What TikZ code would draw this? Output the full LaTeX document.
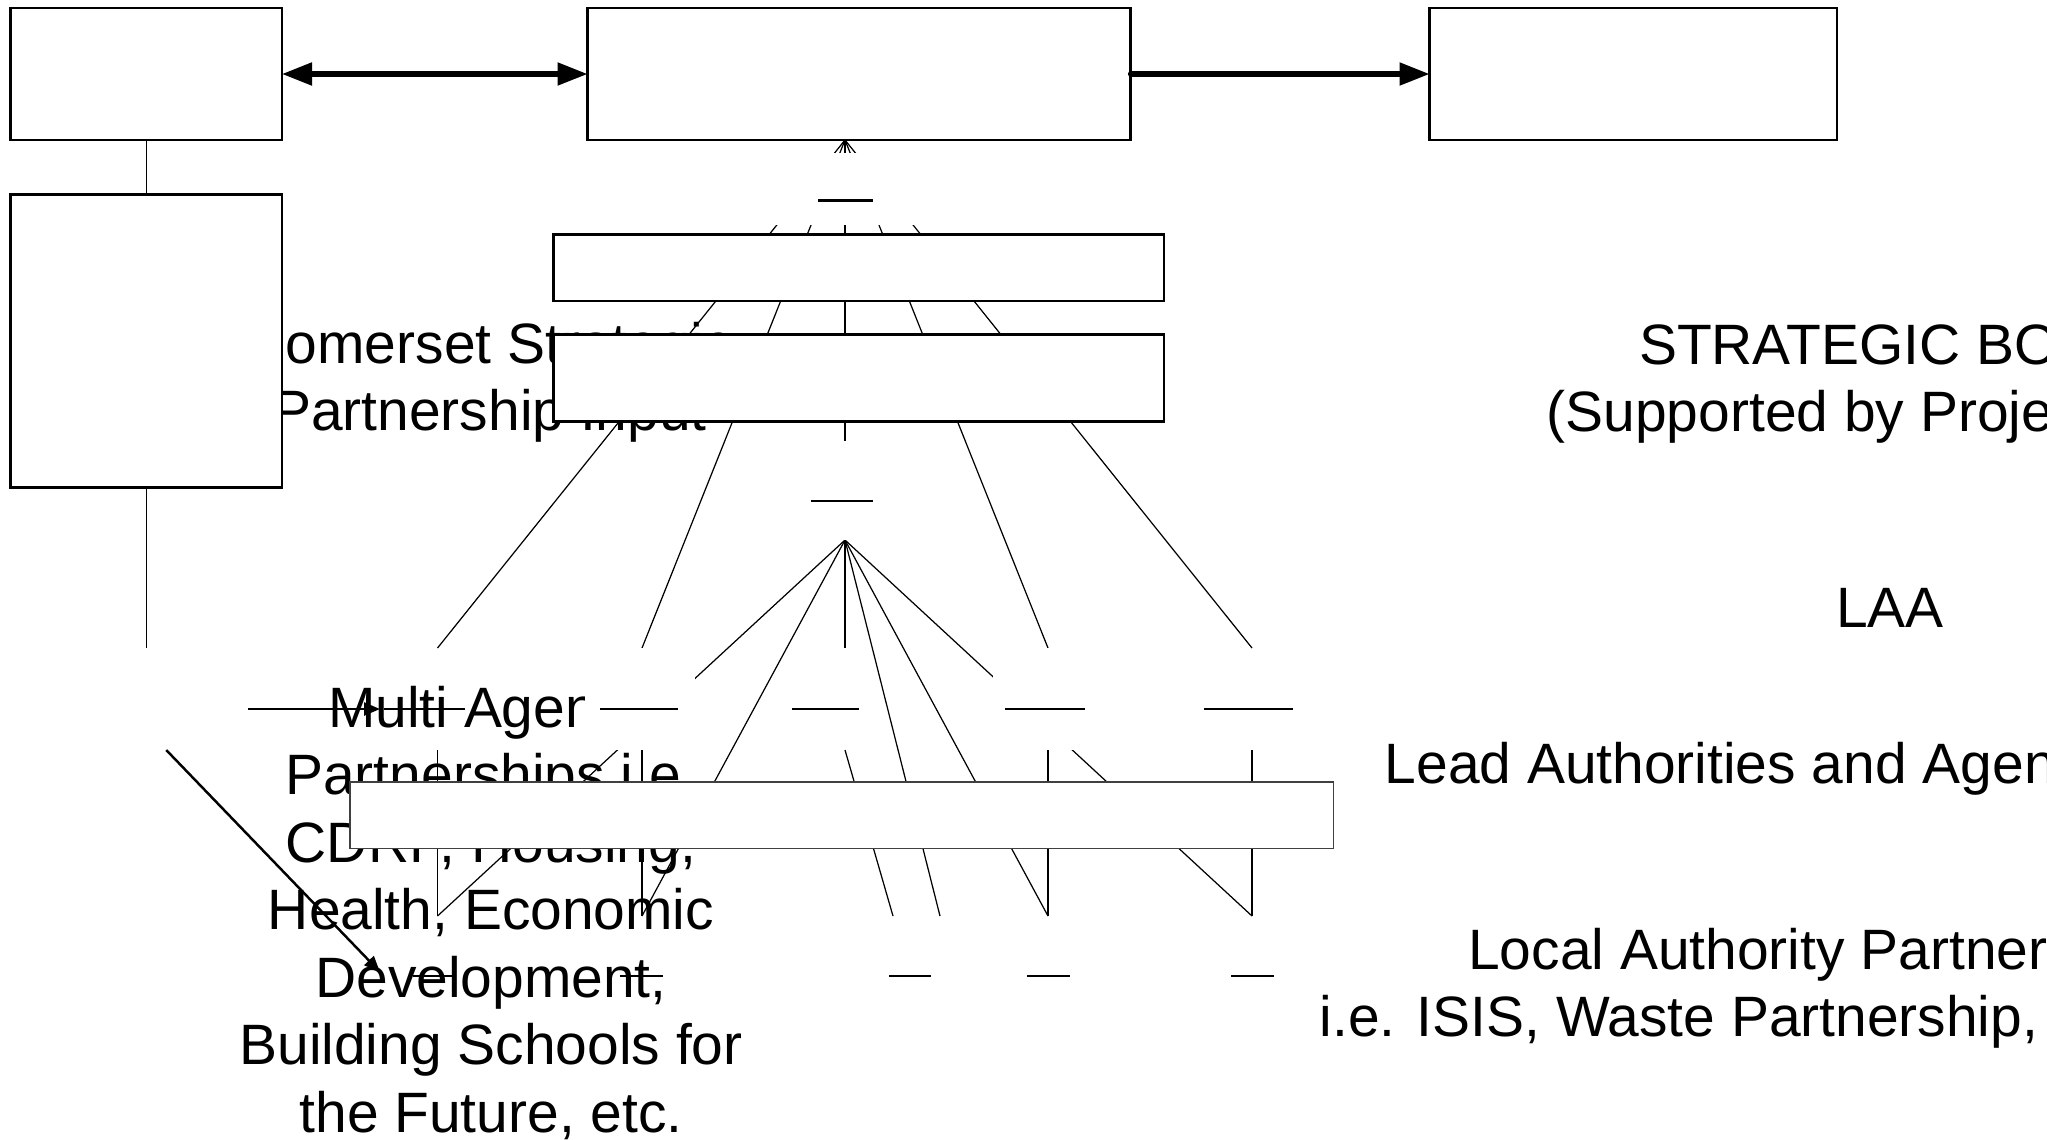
\documentclass[tikz,border=0pt]{standalone}
\usepackage{fontspec}
\setmainfont{Liberation Sans}
\usetikzlibrary{arrows.meta}

\begin{document}
\begin{tikzpicture}[
    box/.style={draw, fill=white, line width=0.6pt, inner sep=0pt, outer sep=0pt},
    hid/.style={inner sep=0pt, outer sep=0pt},
    conn/.style={line width=0.35pt},
    bar/.style={line width=0.7pt},
    fat/.style={line width=1.45pt, line cap=round},
    lbl/.style={inner sep=0pt, align=center, font=\fontsize{16.2}{19.2}\selectfont},
    smalltip/.tip={Triangle[length=0.16cm, width=0.13cm]},
    bigtip/.tip={Triangle[length=0.3cm, width=0.22cm]}]
  \useasboundingbox[fill=white] (0, 0) rectangle (20.47, -11.39);

  % texts (base = last line)
  \node[lbl, anchor=base] (ssp) at (4.90, -4.305) {Somerset Strategic\\Partnership Input};
  \node[lbl, anchor=base] (map) at (4.91, -11.32) {Multi Agency\\Partnerships i.e.\\CDRP, Housing,\\Health, Economic\\Development,\\Building Schools for\\the Future, etc.};
  \node[lbl, anchor=base] (board) at (19.09, -4.315) {STRATEGIC BOARD\\(Supported by Project Team)};
  \node[lbl, anchor=base] (laa) at (18.90, -6.27) {LAA};
  \node[lbl, anchor=base west] (lead) at (13.84, -7.83) {Lead Authorities and Agencies};
  \node[lbl, anchor=base west] (lap) at (14.675, -9.69) {Local Authority Partnerships};
  \node[lbl, anchor=base west] (isis) at (13.19, -10.36) {i.e. ISIS, Waste Partnership, etc.};

  % top boxes
  \node[box, minimum width=2.715cm, minimum height=1.32cm] (A) at (1.4625, -0.74) {};
  \node[box, minimum width=5.43cm, minimum height=1.32cm] (B) at (8.59, -0.74) {};
  \node[box, minimum width=4.075cm, minimum height=1.32cm] (C) at (16.3325, -0.74) {};
  \node[box, minimum width=2.715cm, minimum height=2.93cm] (D) at (1.4625, -3.41) {};
  \coordinate (btip) at (8.45, -1.40);

  % hidden label places
  \node[hid, minimum width=1.55cm, minimum height=0.715cm] (tn) at (8.475, -1.8875) {};
  \node[hid, minimum width=0.8cm, minimum height=0.995cm] (la) at (8.45, -4.9025) {};
  \node[hid, minimum width=2.04cm, minimum height=1.02cm] (lp) at (1.4625, -6.99) {};
  \node[hid, minimum width=1.15cm, minimum height=1.02cm] (l1) at (4.375, -6.99) {};
  \node[hid, minimum width=1.10cm, minimum height=1.02cm] (l2) at (6.40, -6.99) {};
  \node[hid, minimum width=0.9cm, minimum height=1.02cm] (l3) at (8.45, -6.99) {};
  \node[hid, minimum width=1.1cm, minimum height=1.02cm] (l4) at (10.48, -6.99) {};
  \node[hid, minimum width=1.1cm, minimum height=1.02cm] (l5) at (12.52, -6.99) {};
  \node[hid, minimum width=1.15cm, minimum height=1.12cm] (b1) at (4.375, -9.72) {};
  \node[hid, minimum width=1.1cm, minimum height=1.12cm] (b2) at (6.42, -9.72) {};
  \node[hid, minimum width=1.1cm, minimum height=1.12cm] (b3) at (9.10, -9.72) {};
  \node[hid, minimum width=1.1cm, minimum height=1.12cm] (b4) at (10.48, -9.72) {};
  \node[hid, minimum width=1.1cm, minimum height=1.12cm] (b5) at (12.52, -9.72) {};

  % connectors
  \draw[conn] (A) -- (D);
  \draw[conn] (D) -- (lp);
  \foreach \n in {l1, l3, l4, l5}
    \draw[conn] (btip) -- (\n.north);
  \draw[conn] (btip) -- ([xshift=0.02cm]l2.north);
  \foreach \n in {b1, b2, b4, b5}
    \draw[conn] (la.south) -- (\n.north);
  \draw[conn] (la.south) -- (l3.north);
  \draw[conn] (la.south) -- ([xshift=0.3cm]b3.north);
  \draw[conn] (l1.south) -- (b1.north);
  \draw[conn] ([xshift=0.02cm]l2.south) -- (b2.north);
  \draw[conn] (l3.south) -- ([xshift=-0.17cm]b3.north);
  \draw[conn] (l4.south) -- (b4.north);
  \draw[conn] (l5.south) -- (b5.north);

  % label places cover the lines
  \foreach \n in {tn, la, l2, l4}
    \fill[white] (\n.south west) rectangle (\n.north east);

  % empty labels
  \draw[bar] (8.18, -2.005) -- (8.725, -2.005);
  \draw[bar] (8.11, -5.01) -- (8.725, -5.01);
  \foreach \a/\b in {3.84/4.65, 6.00/6.776, 7.92/8.59, 10.05/10.85, 12.04/12.93}
    \draw[bar] (\a, -7.09) -- (\b, -7.09);
  \foreach \a/\b in {4.13/4.52, 6.20/6.63, 8.89/9.31, 10.27/10.70, 12.31/12.74}
    \draw[line width=0.5pt] (\a, -9.76) -- (\b, -9.76);

  % middle boxes
  \node[box, minimum width=6.105cm, minimum height=0.665cm] (E) at (8.5875, -2.6775) {};
  \node[box, minimum width=6.105cm, minimum height=0.87cm] (F) at (8.5875, -3.78) {};
  \node[box, draw=black!75, line width=0.4pt, minimum width=9.835cm, minimum height=0.665cm] (G) at (8.4175, -8.1525) {};

  % arrows
  \draw[fat, bigtip-bigtip] (A) -- (B);
  \draw[fat, -bigtip] (B) -- (C);
  \draw[bar, -smalltip] ([yshift=-0.1cm]lp.east) -- ([yshift=-0.1cm]l1.west);
  \draw[bar, -smalltip] ([xshift=0.2cm]lp.south) -- (b1.west);
\end{tikzpicture}
\end{document}
